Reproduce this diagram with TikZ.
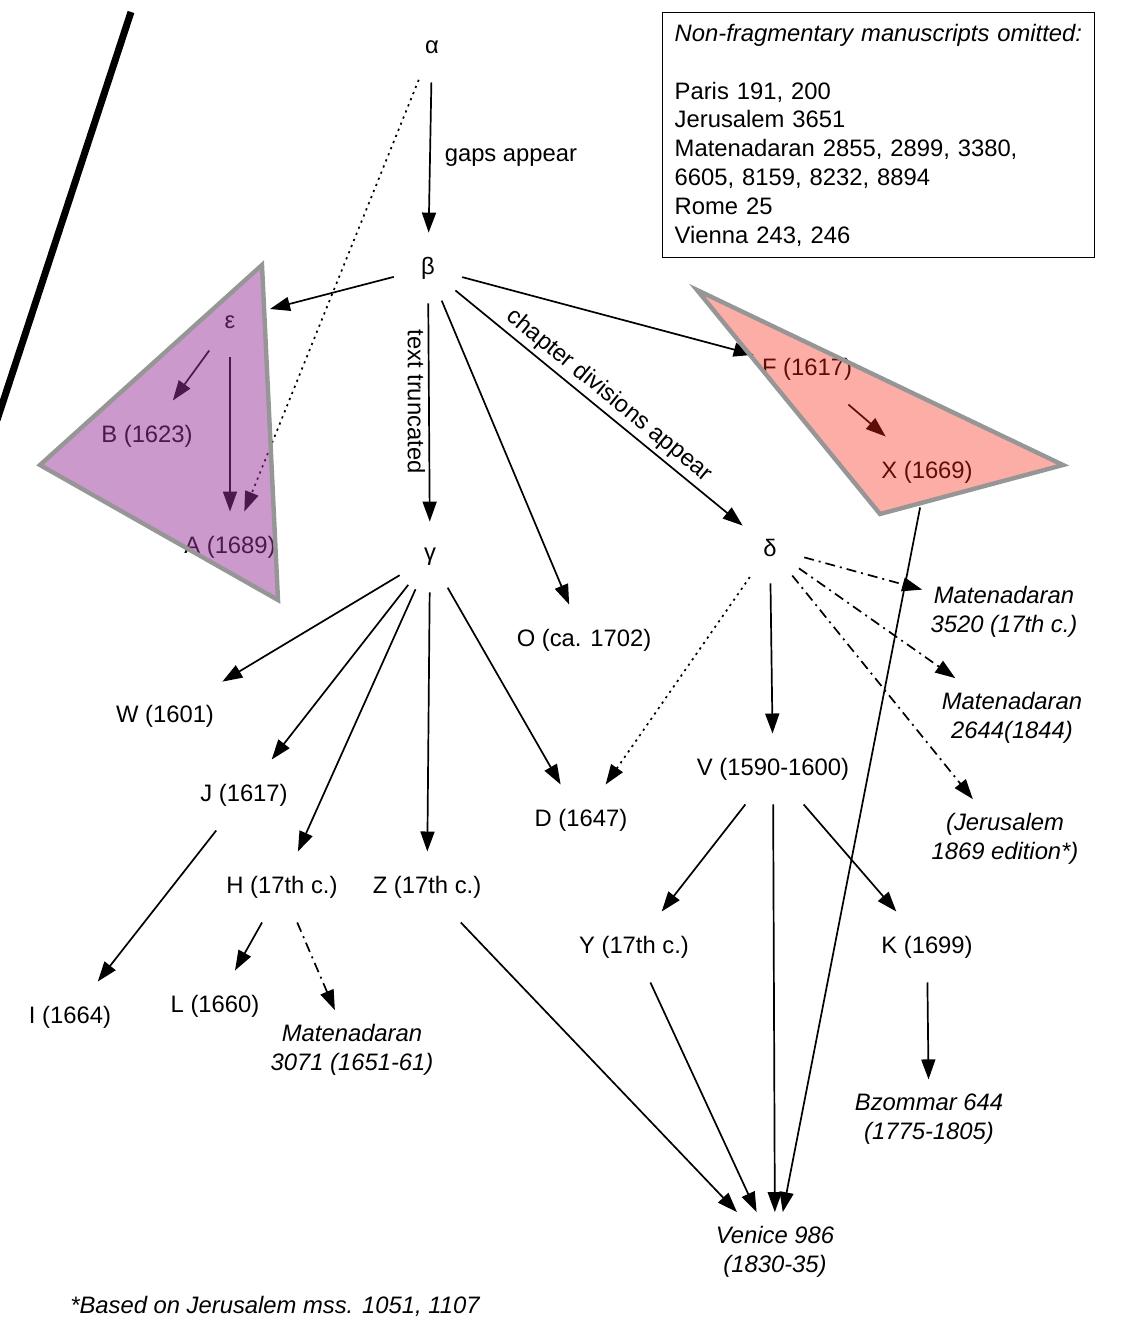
\documentclass[tikz,border=0pt]{standalone}
\usepackage{fontspec}
\setmainfont{Liberation Sans}
\usetikzlibrary{arrows.meta}
\AtBeginDocument{\fontsize{11.9pt}{14.4pt}\selectfont}
\definecolor{grpA}{RGB}{153,51,153}
\definecolor{grpF}{RGB}{245,40,20}
\definecolor{rim}{RGB}{150,150,150}
\tikzset{
  ms/.style={inner xsep=4pt, inner ysep=12pt},
  ms2/.style={align=center, font=\itshape, inner xsep=4pt, inner ysep=7pt},
  grk/.style={circle, minimum size=35pt, inner sep=0pt},
  arr/.style={-{Triangle[length=10pt,width=7pt]}, line width=0.85pt},
  dotarr/.style={arr, dash pattern=on 1.1pt off 2.2pt},
  dasharr/.style={arr, dash pattern=on 5pt off 2.5pt on 1pt off 2.5pt},
}
\begin{document}
\begin{tikzpicture}[x=0.5pt, y=-0.5pt]
  \useasboundingbox (0,0) rectangle (1121,1325);
  \draw[line width=3.5pt] (131,12) -- (-3,420);

  \node[grk] (alpha) at (432,47) {α};
  \node[grk] (beta) at (428,268) {β};
  \node[grk] (eps) at (230,322) {ε};
  \node[grk] (gam) at (430,557) {γ};
  \node[grk] (delta) at (770,548) {δ};
  \node[ms] (B) at (147,436) {B (1623)};
  \node[ms] (A) at (230,547) {A (1689)};
  \node[ms] (F) at (807,369) {F (1617)};
  \node[ms] (X) at (927,472) {X (1669)};
  \node[ms] (O) at (584,640) {O (ca. 1702)};
  \node[ms] (W) at (165,716) {W (1601)};
  \node[ms] (J) at (244,795) {J (1617)};
  \node[ms] (D) at (581,820) {D (1647)};
  \node[ms] (V) at (773,769) {V (1590-1600)};
  \node[ms] (H) at (282,887) {H (17th c.)};
  \node[ms] (Z) at (427,887) {Z (17th c.)};
  \node[ms] (Y) at (634,947) {Y (17th c.)};
  \node[ms] (K) at (927,947) {K (1699)};
  \node[ms] (I) at (70,1017) {I (1664)};
  \node[ms] (L) at (215,1006) {L (1660)};
  \node[ms2] (m3071) at (352,1050) {Matenadaran\\3071 (1651-61)};
  \node[ms2] (m3520) at (1004,612) {Matenadaran\\3520 (17th c.)};
  \node[ms2] (m2644) at (1012,718) {Matenadaran\\2644(1844)};
  \node[ms2] (jer) at (1005,839) {(Jerusalem\\1869 edition*)};
  \node[ms2] (bzo) at (929,1119) {Bzommar 644\\(1775-1805)};
  \node[ms2] (ven) at (775,1252) {Venice 986\\(1830-35)};
  \node[anchor=west, font=\itshape] (foot) at (62,1306) {*Based on Jerusalem mss. 1051, 1107};
  \node[draw, line width=0.7pt, anchor=north west, align=left, text width=204pt,
    inner xsep=6pt, inner ysep=5.8pt] (omit) at (662,12)
    {\mbox{\textit{Non-fragmentary manuscripts omitted:}}\\[14.4pt]
     Paris 191, 200\\ Jerusalem 3651\\ Matenadaran 2855, 2899, 3380,\\
     6605, 8159, 8232, 8894\\ Rome 25\\ Vienna 243, 246};

  \coordinate (epsin) at (270,309);
  \draw[arr] (alpha) -- (beta) node[midway, right, xshift=3pt] {gaps appear};
  \draw[dotarr] (alpha) -- (A);
  \draw[arr] (beta) -- (epsin);
  \draw[arr] (beta) -- (gam) node[pos=0.45, rotate=-90, anchor=north, inner sep=1.5pt] {text truncated};
  \draw[arr] (beta) -- (O);
  \draw[arr] (beta) -- (delta) node[midway, sloped, above, inner sep=2pt] {chapter divisions appear};
  \draw[arr] (beta) -- (F);
  \draw[arr] (eps) -- (B);
  \draw[arr] (eps) -- (A);
  \draw[arr] (F) -- (X);
  \draw[arr] (X) -- (ven);
  \draw[arr] (gam) -- (W);
  \draw[arr] (gam) -- (J);
  \draw[arr] (gam) -- (H);
  \draw[arr] (gam) -- (Z);
  \draw[arr] (gam) -- (D);
  \draw[dotarr] (delta) -- (D);
  \draw[arr] (delta) -- (V);
  \draw[dasharr] (delta) -- (m3520);
  \draw[dasharr] (delta) -- (m2644);
  \draw[dasharr] (delta) -- (jer);
  \draw[arr] (J) -- (I);
  \draw[arr] (H) -- (L);
  \draw[dasharr] (H) -- (m3071);
  \draw[arr] (Z) -- (ven);
  \draw[arr] (V) -- (Y);
  \draw[arr] (V) -- (ven);
  \draw[arr] (V) -- (K);
  \draw[arr] (Y) -- (ven);
  \draw[arr] (K) -- (bzo);

  \coordinate (a1) at (262,265);
  \coordinate (a2) at (40,465);
  \coordinate (a3) at (278,600);
  \fill[grpA, fill opacity=0.5] (a1) -- (a2) -- (a3) -- cycle;
  \draw[rim, line width=2.2pt] (a1) -- (a2) -- (a3) -- cycle;
  \coordinate (f1) at (697,290);
  \coordinate (f2) at (1063,465);
  \coordinate (f3) at (880,514);
  \fill[grpF, fill opacity=0.38] (f1) -- (f2) -- (f3) -- cycle;
  \draw[rim, line width=2.2pt] (f1) -- (f2) -- (f3) -- cycle;
\end{tikzpicture}
\end{document}
